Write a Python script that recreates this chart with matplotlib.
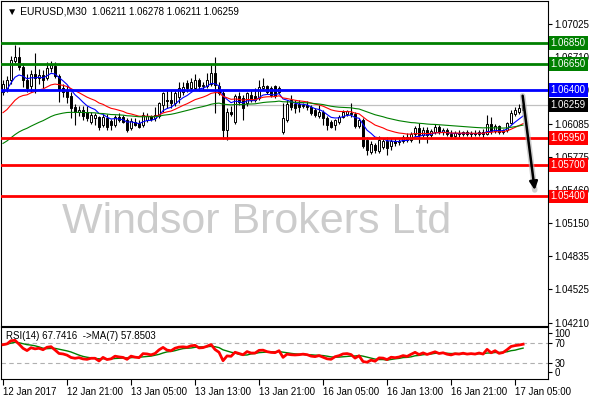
import numpy as np
import pandas as pd
import matplotlib
matplotlib.use('Agg')
import matplotlib.pyplot as plt
from matplotlib.transforms import blended_transform_factory

plt.rcParams['font.family'] = ['Liberation Sans', 'DejaVu Sans']

# EURUSD M30, 12 Jan 2017 13:00 .. 17 Jan 2017 06:00 (bars)
opens = [
    1.06383, 1.06420, 1.06496, 1.06676, 1.06713, 1.06619, 1.06496, 1.06439, 1.06553, 1.06515,
    1.06543, 1.06515, 1.06609, 1.06628, 1.06534, 1.06420, 1.06402, 1.06345, 1.06241, 1.06194,
    1.06213, 1.06194, 1.06099, 1.06137, 1.06146, 1.06071, 1.06137, 1.06109, 1.06071, 1.06146,
    1.06146, 1.06118, 1.06042, 1.06099, 1.06090, 1.06071, 1.06118, 1.06156, 1.06137, 1.06156,
    1.06260, 1.06307, 1.06307, 1.06279, 1.06335, 1.06383, 1.06468, 1.06420, 1.06420, 1.06496,
    1.06439, 1.06439, 1.06458, 1.06562, 1.06439, 1.06373, 1.06024, 1.06194, 1.06099, 1.06345,
    1.06326, 1.06279, 1.06354, 1.06345, 1.06326, 1.06420, 1.06439, 1.06420, 1.06439, 1.06383,
    1.06005, 1.06118, 1.06307, 1.06269, 1.06269, 1.06250, 1.06260, 1.06241, 1.06213, 1.06156,
    1.06194, 1.06137, 1.06099, 1.06071, 1.06099, 1.06146, 1.06175, 1.06184, 1.06175, 1.06061,
    1.06118, 1.05929, 1.05816, 1.05882, 1.05825, 1.05863, 1.05919, 1.05872, 1.05919, 1.05910,
    1.05919, 1.05957, 1.05929, 1.05986, 1.06042, 1.05976, 1.06024, 1.05976, 1.06005, 1.06052,
    1.06005, 1.06024, 1.05986, 1.05967, 1.05995, 1.05986, 1.06005, 1.05986, 1.05995, 1.05986,
    1.06005, 1.05986, 1.06080, 1.06014, 1.06061, 1.06005, 1.06024, 1.06090, 1.06175, 1.06194,
    1.06211]
highs = [
    1.06496, 1.06534, 1.06723, 1.06827, 1.06808, 1.06657, 1.06553, 1.06591, 1.06751, 1.06600,
    1.06591, 1.06666, 1.06676, 1.06666, 1.06553, 1.06458, 1.06439, 1.06383, 1.06269, 1.06250,
    1.06250, 1.06250, 1.06194, 1.06184, 1.06156, 1.06175, 1.06175, 1.06127, 1.06165, 1.06184,
    1.06165, 1.06137, 1.06137, 1.06137, 1.06118, 1.06194, 1.06184, 1.06165, 1.06241, 1.06288,
    1.06383, 1.06402, 1.06402, 1.06402, 1.06477, 1.06477, 1.06496, 1.06515, 1.06553, 1.06515,
    1.06477, 1.06562, 1.06638, 1.06713, 1.06477, 1.06402, 1.06231, 1.06250, 1.06364, 1.06383,
    1.06354, 1.06383, 1.06402, 1.06420, 1.06496, 1.06515, 1.06449, 1.06439, 1.06449, 1.06439,
    1.06279, 1.06307, 1.06354, 1.06307, 1.06307, 1.06279, 1.06298, 1.06260, 1.06231, 1.06260,
    1.06213, 1.06156, 1.06118, 1.06127, 1.06165, 1.06213, 1.06213, 1.06279, 1.06194, 1.06137,
    1.06137, 1.05957, 1.05919, 1.05901, 1.05967, 1.05948, 1.05957, 1.05948, 1.05948, 1.05938,
    1.05976, 1.05995, 1.06005, 1.06061, 1.06090, 1.06052, 1.06052, 1.06033, 1.06080, 1.06071,
    1.06042, 1.06042, 1.06024, 1.06014, 1.06024, 1.06014, 1.06024, 1.06014, 1.06024, 1.06024,
    1.06033, 1.06165, 1.06146, 1.06080, 1.06071, 1.06033, 1.06099, 1.06213, 1.06241, 1.06269,
    1.06278]
lows = [
    1.06354, 1.06383, 1.06458, 1.06657, 1.06591, 1.06430, 1.06383, 1.06383, 1.06373, 1.06458,
    1.06420, 1.06496, 1.06572, 1.06515, 1.06288, 1.06335, 1.06279, 1.06137, 1.06071, 1.06156,
    1.06118, 1.06109, 1.06080, 1.06071, 1.06024, 1.06052, 1.06024, 1.06024, 1.06052, 1.06099,
    1.06090, 1.06005, 1.06024, 1.06061, 1.06042, 1.06052, 1.06099, 1.06109, 1.06109, 1.06137,
    1.06194, 1.06231, 1.06231, 1.06250, 1.06279, 1.06354, 1.06383, 1.06402, 1.06402, 1.06392,
    1.06402, 1.06420, 1.06439, 1.06184, 1.06354, 1.05938, 1.05929, 1.06156, 1.06080, 1.06260,
    1.06118, 1.06250, 1.06288, 1.06288, 1.06307, 1.06402, 1.06364, 1.06335, 1.06326, 1.06364,
    1.05986, 1.06099, 1.06213, 1.06184, 1.06194, 1.06231, 1.06213, 1.06165, 1.06146, 1.06137,
    1.06071, 1.06024, 1.06042, 1.06024, 1.06080, 1.06137, 1.06156, 1.06146, 1.06042, 1.06042,
    1.05853, 1.05787, 1.05797, 1.05806, 1.05806, 1.05844, 1.05787, 1.05835, 1.05872, 1.05882,
    1.05901, 1.05910, 1.05910, 1.05957, 1.05901, 1.05957, 1.05901, 1.05957, 1.05986, 1.05986,
    1.05976, 1.05967, 1.05948, 1.05948, 1.05957, 1.05967, 1.05967, 1.05957, 1.05967, 1.05967,
    1.05948, 1.05976, 1.05986, 1.05995, 1.05986, 1.05986, 1.06005, 1.06080, 1.06156, 1.06175,
    1.06211]
closes = [
    1.06458, 1.06496, 1.06685, 1.06713, 1.06619, 1.06496, 1.06420, 1.06553, 1.06515, 1.06543,
    1.06496, 1.06609, 1.06638, 1.06534, 1.06402, 1.06383, 1.06335, 1.06231, 1.06194, 1.06213,
    1.06156, 1.06137, 1.06165, 1.06165, 1.06052, 1.06146, 1.06052, 1.06071, 1.06146, 1.06118,
    1.06099, 1.06024, 1.06109, 1.06071, 1.06052, 1.06165, 1.06156, 1.06127, 1.06165, 1.06279,
    1.06373, 1.06298, 1.06279, 1.06373, 1.06420, 1.06430, 1.06420, 1.06477, 1.06496, 1.06439,
    1.06449, 1.06496, 1.06562, 1.06449, 1.06373, 1.06024, 1.06194, 1.06175, 1.06345, 1.06288,
    1.06231, 1.06373, 1.06307, 1.06307, 1.06430, 1.06439, 1.06383, 1.06354, 1.06345, 1.06420,
    1.06137, 1.06269, 1.06241, 1.06231, 1.06241, 1.06260, 1.06241, 1.06184, 1.06165, 1.06194,
    1.06137, 1.06071, 1.06052, 1.06118, 1.06146, 1.06194, 1.06203, 1.06175, 1.06061, 1.06118,
    1.05872, 1.05835, 1.05891, 1.05835, 1.05929, 1.05919, 1.05853, 1.05919, 1.05901, 1.05919,
    1.05957, 1.05929, 1.05986, 1.06042, 1.05976, 1.06024, 1.05976, 1.06014, 1.06052, 1.06005,
    1.06024, 1.05986, 1.05967, 1.05995, 1.05986, 1.06005, 1.05986, 1.05995, 1.05986, 1.06005,
    1.05986, 1.06080, 1.06014, 1.06061, 1.06005, 1.06024, 1.06090, 1.06184, 1.06213, 1.06231,
    1.06259]

tick_bars = [0, 16, 32, 48, 64, 80, 96, 112, 128]
tick_labels = ['12 Jan 2017', '12 Jan 21:00', '13 Jan 05:00', '13 Jan 13:00', '13 Jan 21:00',
               '16 Jan 05:00', '16 Jan 13:00', '16 Jan 21:00', '17 Jan 05:00']

price_ticks = [1.07025, 1.06710, 1.06400, 1.06085, 1.05775, 1.05460, 1.05150, 1.04835, 1.04525, 1.04210]
levels = [1.06850, 1.06650, 1.06400, 1.05950, 1.05700, 1.05400]
level_colors = ['#008000', '#008000', '#0000ff', '#ff0000', '#ff0000', '#ff0000']
last_price = 1.06259

# moving averages on price: (period, value at first bar, colour)
mas = [(8, 1.06383, '#0000ff'), (20, 1.06190, '#ff0000'), (50, 1.05900, '#008000')]

symbol = '\u25bc EURUSD,M30'
ohlc_text = '1.06211 1.06278 1.06211 1.06259'
rsi_title = 'RSI(14) 67.7416  ->MA(7) 57.8503'
arrow_from = (129.8, 1.06375)
arrow_to = (133.0, 1.05435)

o = np.array(opens); h = np.array(highs); l = np.array(lows); c = np.array(closes)
x = np.arange(len(c))

fig = plt.figure(figsize=(5.9, 4.0), dpi=100)
ax = fig.add_axes([1/590, 74.3/400, 546.5/590, 324.7/400])
ax2 = fig.add_axes([1/590, 21/400, 546.5/590, 52/400])

# candles
ax.vlines(x, l, h, color='black', lw=0.8, zorder=3)
up = c >= o
body = np.maximum(np.abs(c - o), 0.00003)
ax.bar(x, body, bottom=np.minimum(o, c), width=0.62,
       color=np.where(up, 'white', 'black'), edgecolor='black', linewidth=0.7, zorder=4)

# moving averages (exponential, seeded at first bar)
for period, seed, col in mas:
    a = 2 / (period + 1)
    ema = [seed]
    for v in c[1:]:
        ema.append(ema[-1] + a * (v - ema[-1]))
    ax.plot(x, ema, color=col, lw=0.8, zorder=5)

ax.axhline(last_price, color='#c0c0c0', lw=0.9, zorder=2)
for lv, col in zip(levels, level_colors):
    ax.axhline(lv, color=col, lw=2.0, zorder=6)

trans = blended_transform_factory(ax.transAxes, ax.transData)
for lv, col in zip(levels, level_colors):
    ax.text(1.006, lv, f'{lv:.5f}', transform=trans, color='white', fontsize=7, va='center',
            ha='left', clip_on=False, zorder=10,
            bbox=dict(boxstyle='square,pad=0.2', fc=col, ec='none'))
ax.text(1.006, last_price, f'{last_price:.5f}', transform=trans, color='white', fontsize=7,
        va='center', ha='left', clip_on=False, zorder=10,
        bbox=dict(boxstyle='square,pad=0.2', fc='black', ec='none'))

# arrow with soft shadow
ax.annotate('', xy=arrow_to, xytext=arrow_from,
            arrowprops=dict(arrowstyle='-', color='#b0b0b0', lw=4, alpha=0.6), zorder=7)
ax.annotate('', xy=arrow_to, xytext=arrow_from,
            arrowprops=dict(arrowstyle='-|>', color='black', lw=1.8, mutation_scale=12), zorder=8)

ax.text(0.468, 0.319, 'Windsor Brokers Ltd', transform=ax.transAxes, fontsize=31,
        color='#cccccc', ha='center', va='center', zorder=1)

ax.set_xlim(-0.5, 136.1)
ax.set_ylim(1.04182, 1.07242)
ax.set_xticks([])
ax.yaxis.tick_right()
ax.set_yticks(price_ticks)
ax.set_yticklabels([f'{p:.5f}' for p in price_ticks])
ax.tick_params(axis='y', direction='out', length=3, labelsize=7, pad=2)

# RSI(14) with MA(7)
diff = np.diff(c)
avg_gain, avg_loss = 0.00040, 0.00020
rsi = [100 - 100 / (1 + avg_gain / avg_loss)]
for d in diff:
    avg_gain = (avg_gain * 13 + max(d, 0)) / 14
    avg_loss = (avg_loss * 13 + max(-d, 0)) / 14
    rsi.append(100 - 100 / (1 + avg_gain / avg_loss))
rsi_ma = pd.Series(rsi).rolling(7, min_periods=1).mean()

ax2.axhline(70, color='#b0b0b0', lw=0.8, ls=(0, (4, 3)))
ax2.axhline(30, color='#b0b0b0', lw=0.8, ls=(0, (4, 3)))
ax2.plot(x, rsi_ma, color='#008000', lw=1.0, zorder=3)
ax2.plot(x, rsi, color='#ff0000', lw=2.0, zorder=4)
ax2.set_xlim(-0.5, 136.1)
ax2.set_ylim(-2, 102)
ax2.yaxis.tick_right()
ax2.set_yticks([90, 70, 30, 12])
ax2.set_yticklabels(['100', '70', '30', '0'])
ax2.tick_params(axis='y', direction='out', length=3, labelsize=7, pad=2)
ax2.set_xticks(tick_bars)
ax2.set_xticklabels(tick_labels)
for t in ax2.get_xticklabels():
    t.set_ha('left')
ax2.tick_params(axis='x', direction='out', length=4, labelsize=7, pad=2)

for a_ in (ax, ax2):
    for s in a_.spines.values():
        s.set_color('black')
        s.set_linewidth(0.8)

fig.text(7/590, 1 - 12/400, symbol, fontsize=7.5, va='center', ha='left')
fig.text(92/590, 1 - 12/400, ohlc_text, fontsize=7, va='center', ha='left')
fig.text(6/590, 1 - 336/400, rsi_title, fontsize=7, va='center', ha='left')

fig.savefig('out.png', dpi=100)
